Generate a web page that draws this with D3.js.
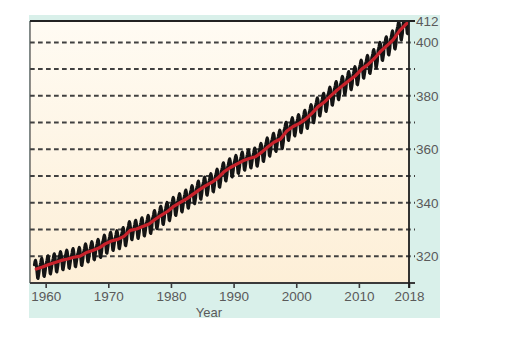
<!DOCTYPE html>
<html>
<head>
<meta charset="utf-8">
<script src="https://cdn.jsdelivr.net/npm/d3@7"></script>
<style>
  html, body { margin: 0; padding: 0; background: #ffffff; }
  svg { display: block; }
  text { font-family: "Liberation Sans", Arial, Helvetica, sans-serif; fill: #5a5a5a; }
</style>
</head>
<body>
<svg id="chart" width="523" height="359"></svg>
<script>
const years = d3.range(1958, 2019);
const annualMeans = [
  315.23, 315.98, 316.91, 317.64, 318.45, 318.99, 319.62, 320.04, 321.37, 322.18,
  323.05, 324.62, 325.68, 326.32, 327.46, 329.68, 330.19, 331.13, 332.03, 333.84,
  335.41, 336.84, 338.76, 340.12, 341.48, 343.15, 344.85, 346.35, 347.61, 349.31,
  351.69, 353.20, 354.45, 355.70, 356.54, 357.21, 358.96, 360.97, 362.74, 363.88,
  366.84, 368.54, 369.71, 371.32, 373.45, 375.98, 377.70, 379.98, 382.09, 384.02,
  385.83, 387.64, 390.10, 391.85, 394.06, 396.74, 398.81, 401.01, 404.41, 406.76,
  408.72
];
const months = ["Jan","Feb","Mar","Apr","May","Jun","Jul","Aug","Sep","Oct","Nov","Dec"];
const seasonalOffset = [0.1, 0.8, 1.6, 2.8, 3.3, 2.6, 1.0, -1.4, -3.3, -3.5, -2.3, -1.0];
const firstMonthIndex = 2; // record starts March 1958

const xTickValues = [1960, 1970, 1980, 1990, 2000, 2010, 2018];
const xTickLabels = ["1960", "1970", "1980", "1990", "2000", "2010", "2018"];
const yGridValues = [320, 330, 340, 350, 360, 370, 380, 390, 400];
const yLabelValues = [320, 340, 360, 380, 400];
const yLabels = ["320", "340", "360", "380", "400"];
const yTopLabel = "412";
const xTitle = "Year";

// ---- derived tables ----
const annualSeries = years.map((y, i) => ({ t: y + 0.5, v: annualMeans[i] }));
const monthlySeries = [];
years.forEach((y, i) => {
  months.forEach((m, k) => {
    if (i === 0 && k < firstMonthIndex) return;
    monthlySeries.push({ t: y + (k + 0.5) / 12, v: annualMeans[i] + seasonalOffset[k] });
  });
});

// ---- layout ----
const svg = d3.select("#chart");
const L = 30, R = 409, T = 21, B = 283;

const x = d3.scaleLinear().domain([1957.5, 2018]).range([L, R]);
const y = d3.scaleLinear().domain([310, 408]).range([B, T]);

// teal background panel
svg.append("rect").attr("x", 29).attr("y", 15).attr("width", 411).attr("height", 303)
  .attr("fill", "#d9f0ea");

// cream gradient plot background
const defs = svg.append("defs");
const grad = defs.append("linearGradient").attr("id", "bg").attr("x1", 0).attr("y1", 0).attr("x2", 0).attr("y2", 1);
grad.append("stop").attr("offset", "0%").attr("stop-color", "#fffbf3");
grad.append("stop").attr("offset", "100%").attr("stop-color", "#fdefd7");
defs.append("clipPath").attr("id", "clip").append("rect")
  .attr("x", L).attr("y", T).attr("width", R - L).attr("height", B - T);

svg.append("rect").attr("x", L).attr("y", T).attr("width", R - L).attr("height", B - T)
  .attr("fill", "url(#bg)");

// dashed gridlines (extend past right axis as ticks)
svg.append("g").selectAll("line").data(yGridValues).join("line")
  .attr("x1", L).attr("x2", R + 6)
  .attr("y1", d => y(d)).attr("y2", d => y(d))
  .attr("stroke", "#404040").attr("stroke-width", 2)
  .attr("stroke-dasharray", "4.7,3.3");

// data lines
const plot = svg.append("g").attr("clip-path", "url(#clip)");
plot.append("path").datum(monthlySeries)
  .attr("d", d3.line().x(d => x(d.t)).y(d => y(d.v)))
  .attr("fill", "none").attr("stroke", "#141414").attr("stroke-width", 3)
  .attr("stroke-linejoin", "round").attr("stroke-linecap", "round");
plot.append("path").datum(annualSeries)
  .attr("d", d3.line().x(d => x(d.t)).y(d => y(d.v)))
  .attr("fill", "none").attr("stroke", "#c8222b").attr("stroke-width", 3.2)
  .attr("stroke-linejoin", "round").attr("stroke-linecap", "round");

// frame: left & top borders
svg.append("line").attr("x1", L).attr("x2", L).attr("y1", T).attr("y2", B)
  .attr("stroke", "#454545").attr("stroke-width", 1.2);
svg.append("line").attr("x1", L).attr("x2", R + 6).attr("y1", T).attr("y2", T)
  .attr("stroke", "#222").attr("stroke-width", 1.8);

// bottom axis
const xAxis = d3.axisBottom(x).tickValues(xTickValues)
  .tickFormat((d, i) => xTickLabels[i]).tickSize(5).tickSizeOuter(0).tickPadding(3);
const gx = svg.append("g").attr("transform", `translate(0,${B})`).call(xAxis);
gx.select(".domain").remove();
gx.selectAll(".tick line").attr("stroke", "#3a3a3a").attr("stroke-width", 1.6);
gx.selectAll(".tick text").attr("font-size", 13.5).attr("fill", "#5a5a5a")
  .attr("font-family", "Liberation Sans, Arial, sans-serif");
svg.append("line").attr("x1", L).attr("x2", R + 6).attr("y1", B).attr("y2", B)
  .attr("stroke", "#3a3a3a").attr("stroke-width", 1.8);

// right axis
svg.append("line").attr("x1", R).attr("x2", R).attr("y1", T).attr("y2", B + 5)
  .attr("stroke", "#1e1e1e").attr("stroke-width", 1.8);
svg.append("g").selectAll("text").data(yLabelValues).join("text")
  .attr("x", R + 7).attr("y", d => y(d)).attr("dy", "0.36em")
  .attr("font-size", 13.5).text((d, i) => yLabels[i]);
svg.append("text").attr("x", R + 7).attr("y", T).attr("dy", "0.36em")
  .attr("font-size", 13.5).text(yTopLabel);

// x title
svg.append("text").attr("x", 209).attr("y", 317).attr("text-anchor", "middle")
  .attr("font-size", 13).text(xTitle);
</script>
</body>
</html>
